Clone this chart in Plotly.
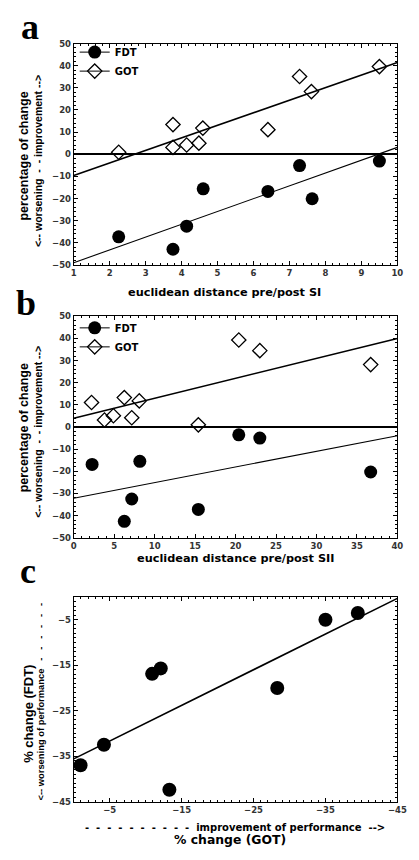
import plotly.graph_objects as go

# ---------------- data ----------------
# panel a : euclidean distance pre/post SI
a_got_x = [2.25, 3.76, 3.76, 4.14, 4.48, 4.59, 6.40, 7.28, 7.61, 9.50]
a_got_y = [0.9, 13.4, 3.1, 4.2, 5.0, 11.8, 11.1, 35.1, 28.3, 39.6]
a_fdt_x = [2.25, 3.76, 4.14, 4.60, 6.40, 7.28, 7.63, 9.50]
a_fdt_y = [-37.3, -42.9, -32.5, -15.6, -16.8, -5.1, -20.1, -3.1]
a_fit_x = [1, 10]
a_fit_got = [-9.6, 41.4]
a_fit_fdt = [-49.0, 3.1]

# panel b : euclidean distance pre/post SII
b_got_x = [2.2, 3.8, 4.9, 6.25, 7.17, 8.1, 15.4, 20.4, 23.0, 36.7]
b_got_y = [11.1, 3.2, 5.1, 13.3, 4.2, 11.8, 1.0, 39.3, 34.5, 28.2]
b_fdt_x = [2.27, 6.25, 7.17, 8.17, 15.4, 20.4, 23.0, 36.7]
b_fdt_y = [-16.9, -42.6, -32.5, -15.5, -37.2, -3.5, -5.0, -20.3]
b_fit_x = [0, 40]
b_fit_got = [4.0, 40.0]
b_fit_fdt = [-32.2, -3.9]

# panel c : % change GOT vs % change FDT
c_got = [-0.95, -4.2, -10.9, -12.1, -13.3, -28.3, -35.0, -39.5]
c_fdt = [-37.0, -32.5, -16.9, -15.7, -42.4, -20.0, -5.0, -3.5]
c_fit_x = [0, -45]
c_fit_y = [-35.6, -0.3]

ab_yticks = [-50, -40, -30, -20, -10, 0, 10, 20, 30, 40, 50]
a_xticks = [1, 2, 3, 4, 5, 6, 7, 8, 9, 10]
b_xticks = [0, 5, 10, 15, 20, 25, 30, 35, 40]
c_ticks = [-5, -15, -25, -35, -45]

# ---------------- figure ----------------
W, H = 419, 860
SANS = "DejaVu Sans"        # horizontal texts
VSANS = "Liberation Sans"   # vertical texts
fig = go.Figure()

fdt_marker = dict(symbol="circle", size=13, color="black")
got_marker = dict(symbol="diamond-open", size=11, color="black", line=dict(width=1.3, color="black"))

def add_panel(xa, ya, legend, gx, gy, fx, fy, fitx, fitg, fitf):
    fig.add_trace(go.Scatter(x=fitx, y=fitg, mode="lines", line=dict(color="black", width=1.6),
                             xaxis=xa, yaxis=ya, showlegend=False, hoverinfo="skip"))
    fig.add_trace(go.Scatter(x=fitx, y=fitf, mode="lines", line=dict(color="black", width=1.1),
                             xaxis=xa, yaxis=ya, showlegend=False, hoverinfo="skip"))
    fig.add_trace(go.Scatter(x=gx, y=gy, mode="markers", marker=got_marker,
                             xaxis=xa, yaxis=ya, showlegend=False))
    fig.add_trace(go.Scatter(x=fx, y=fy, mode="markers", marker=fdt_marker,
                             xaxis=xa, yaxis=ya, showlegend=False))
    # legend entries
    fig.add_trace(go.Scatter(x=[None], y=[None], mode="lines+markers", name="FDT",
                             marker=fdt_marker, line=dict(color="black", width=1),
                             xaxis=xa, yaxis=ya, legend=legend))
    fig.add_trace(go.Scatter(x=[None], y=[None], mode="lines+markers", name="GOT",
                             marker=got_marker, line=dict(color="black", width=1),
                             xaxis=xa, yaxis=ya, legend=legend))

add_panel("x", "y", "legend", a_got_x, a_got_y, a_fdt_x, a_fdt_y, a_fit_x, a_fit_got, a_fit_fdt)
add_panel("x2", "y2", "legend2", b_got_x, b_got_y, b_fdt_x, b_fdt_y, b_fit_x, b_fit_got, b_fit_fdt)

fig.add_trace(go.Scatter(x=c_fit_x, y=c_fit_y, mode="lines", line=dict(color="black", width=1.6),
                         xaxis="x3", yaxis="y3", showlegend=False, hoverinfo="skip"))
fig.add_trace(go.Scatter(x=c_got, y=c_fdt, mode="markers", marker=dict(symbol="circle", size=14, color="black"),
                         xaxis="x3", yaxis="y3", showlegend=False))

def PX(x):
    return x / W

def PY(y):
    return 1 - y / H

L, R = PX(73), PX(407)
def ydom(top, bot):
    return [PY(bot), PY(top)]

tickfont = dict(family=SANS, size=8.5, color="#333", weight="bold")
common = dict(showline=True, linecolor="black", linewidth=1, mirror="allticks", ticks="inside",
              ticklen=4, tickwidth=1, tickcolor="black", showgrid=False, zeroline=False,
              tickfont=tickfont)
legfont = dict(family=SANS, size=10, color="black", weight="bold")

fig.update_layout(
    width=W, height=H, margin=dict(l=0, r=0, t=0, b=0),
    paper_bgcolor="white", plot_bgcolor="white",
    xaxis=dict(domain=[L, R], anchor="y", range=[1, 10], tickvals=a_xticks,
               minor=dict(ticks="inside", ticklen=2, dtick=0.2, tickcolor="black"), **common),
    yaxis=dict(domain=ydom(39, 263), anchor="x", range=[-50, 50], tickvals=ab_yticks,
               minor=dict(ticks="inside", ticklen=2, dtick=2, tickcolor="black"), **common),
    xaxis2=dict(domain=[L, R], anchor="y2", range=[0, 40], tickvals=b_xticks,
                minor=dict(ticks="inside", ticklen=2, dtick=1, tickcolor="black"), **common),
    yaxis2=dict(domain=ydom(315, 539), anchor="x2", range=[-50, 50], tickvals=ab_yticks,
                minor=dict(ticks="inside", ticklen=2, dtick=2, tickcolor="black"), **common),
    xaxis3=dict(domain=[L, R], anchor="y3", range=[0, -45], tickvals=c_ticks,
                minor=dict(ticks="inside", ticklen=2, dtick=1, tickcolor="black"), **common),
    yaxis3=dict(domain=ydom(599, 806), anchor="x3", range=[-45, 0], tickvals=c_ticks,
                minor=dict(ticks="inside", ticklen=2, dtick=1, tickcolor="black"), **common),
    legend=dict(x=PX(74), y=PY(33), xanchor="left", yanchor="top", bgcolor="rgba(0,0,0,0)",
                font=legfont, itemsizing="trace", tracegroupgap=0),
    legend2=dict(x=PX(74), y=PY(312), xanchor="left", yanchor="top", bgcolor="rgba(0,0,0,0)",
                 font=legfont, itemsizing="trace", tracegroupgap=0),
)

# zero lines on panels a and b
fig.update_yaxes(zeroline=True, zerolinecolor="black", zerolinewidth=2, selector=dict(anchor="x"))
fig.update_yaxes(zeroline=True, zerolinecolor="black", zerolinewidth=2, selector=dict(anchor="x2"))

def ann(text, x, y, size, angle=0, family=SANS, weight="bold", xanchor="center", yanchor="middle"):
    fig.add_annotation(text=text, x=PX(x), y=PY(y), xref="paper", yref="paper", showarrow=False,
                       textangle=angle, xanchor=xanchor, yanchor=yanchor,
                       font=dict(family=family, size=size, color="black", weight=weight))

# panel letters (box top given; baseline sits ~33 px below)
ann("a", 16, 0.5, 36, family="Liberation Serif", xanchor="left", yanchor="top")
ann("b", 11, 279, 36, family="Liberation Serif", xanchor="left", yanchor="top")
ann("c", 15, 550, 36, family="Liberation Serif", xanchor="left", yanchor="top")

# axis titles a
ann("euclidean distance pre/post SI", 229, 291, 11.3)
ann("percentage of change", 22, 153, 12.5, angle=-90, family=VSANS)
ann("<-- worsening  -  - improvement -->", 36, 158, 10.5, angle=-90, family=VSANS)
# axis titles b
ann("euclidean distance pre/post SII", 240, 560, 11.3)
ann("percentage of change", 22, 428, 12.5, angle=-90, family=VSANS)
ann("<-- worsening  -  - improvement -->", 36, 432, 10.5, angle=-90, family=VSANS)
# axis titles c
ann("-  " * 10 + "improvement of performance  -->", 239, 832, 10)
ann("% change (GOT)", 234, 844, 12.4)
ann("% change (FDT)", 27, 717, 13, angle=-90, family=VSANS)
ann("<-- worsening of performance" + "   -" * 6, 39, 705, 9.4, angle=-90, family=VSANS)

fig.write_html("out.html", config={"displayModeBar": False},
               post_script="document.body.style.margin='0';document.body.style.overflow='hidden';")
